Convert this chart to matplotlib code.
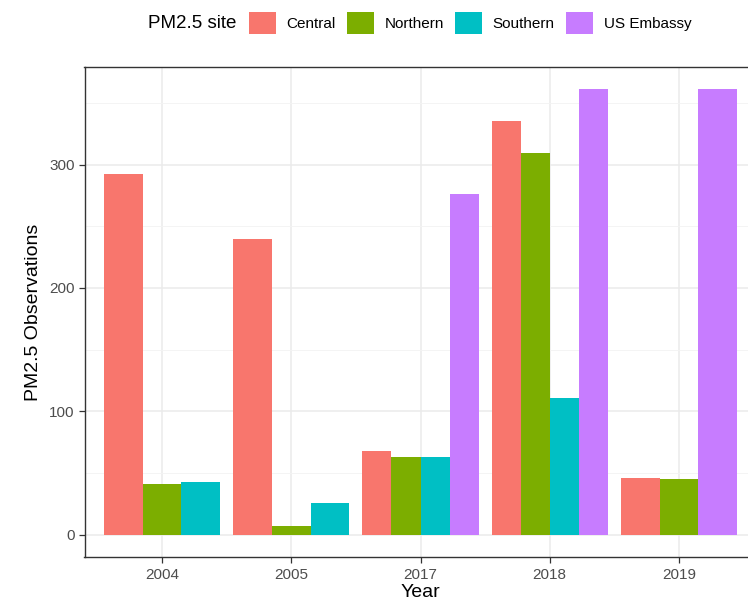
import numpy as np
import matplotlib.pyplot as plt
from matplotlib.patches import Patch

plt.rcParams["font.family"] = ["Liberation Sans", "DejaVu Sans"]

years = ["2004", "2005", "2017", "2018", "2019"]
sites = ["Central", "Northern", "Southern", "US Embassy"]
central = [292, 240, 68, 335, 46]
northern = [41, 7, 63, 309, 45]
southern = [43, 26, 63, 111, np.nan]
embassy = [np.nan, np.nan, 276, 361, 361]
colors = ["#F8766D", "#7CAE00", "#00BFC4", "#C77CFF"]

counts = np.array([central, northern, southern, embassy], dtype=float)

fig = plt.figure(figsize=(7.48, 6.02), dpi=100)
ax = fig.add_axes([84.5 / 748, 45 / 602, 672 / 748, 490 / 602])

# dodge like ggplot: each year splits 0.9 among the sites it actually has
for i, year in enumerate(years):
    present = [k for k in range(len(sites)) if not np.isnan(counts[k, i])]
    w = 0.9 / len(present)
    left = i - 0.45
    for j, k in enumerate(present):
        ax.bar(left + w * (j + 0.5), counts[k, i], width=w, color=colors[k],
               linewidth=0, zorder=2)

ax.set_xlim(-0.6, len(years) - 0.4)
ymax = np.nanmax(counts)
ax.set_ylim(-0.05 * ymax, 1.05 * ymax)
ax.set_xticks(range(len(years)))
ax.set_xticklabels(years)
ax.set_yticks([0, 100, 200, 300])
ax.set_yticks([50, 150, 250, 350], minor=True)

ax.grid(True, which="major", color="#EBEBEB", linewidth=1.1, zorder=0)
ax.grid(True, which="minor", axis="y", color="#F3F3F3", linewidth=0.6, zorder=0)
ax.set_axisbelow(True)
for s in ax.spines.values():
    s.set_color("#333333")
    s.set_linewidth(1.0)
ax.tick_params(which="major", length=4.2, color="#333333", width=0.9,
               labelsize=11, labelcolor="#4D4D4D", pad=3)
ax.tick_params(axis="x", which="major", pad=4)
ax.tick_params(which="minor", length=0)

ax.set_xlabel("Year", fontsize=14, labelpad=1)
ax.set_ylabel("PM2.5 Observations", fontsize=14, labelpad=5)

fig.text(148 / 748, 1 - 23 / 602, "PM2.5 site", fontsize=13.5,
         va="center", ha="left")
handles = [Patch(facecolor=c, edgecolor="none") for c in colors]
fig.legend(handles, sites, ncol=4, loc="center left",
           bbox_to_anchor=(249 / 748, 1 - 23 / 602), frameon=False,
           fontsize=11, handlelength=1.75, handleheight=1.75,
           handletextpad=0.72, columnspacing=0.72, borderpad=0,
           borderaxespad=0)

fig.savefig("out.png", dpi=100)
